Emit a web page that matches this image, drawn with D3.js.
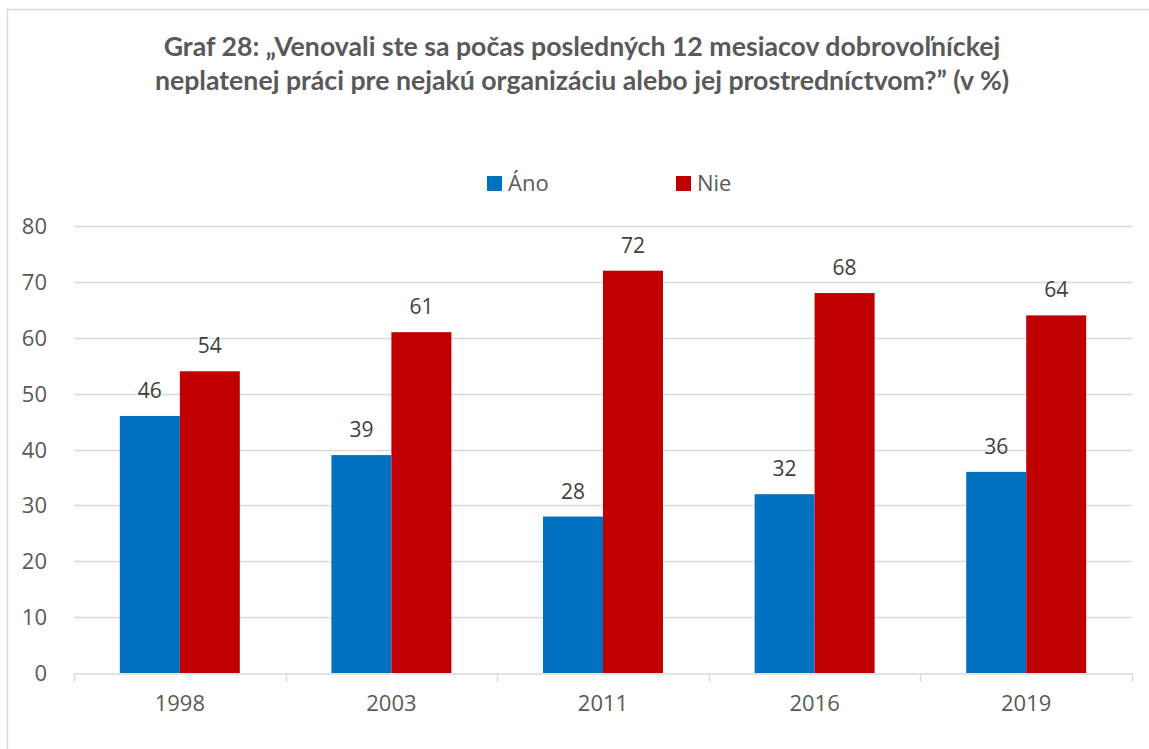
<!DOCTYPE html>
<html>
<head>
<meta charset="utf-8">
<script src="https://cdn.jsdelivr.net/npm/d3@7"></script>
<style>
  html, body { margin: 0; padding: 0; background: #fff; }
  svg { display: block; }
</style>
</head>
<body>
<svg id="chart" width="1149" height="749"></svg>
<script>
// data
var years = ['1998', '2003', '2011', '2016', '2019'];
var seriesNames = ['Áno', 'Nie'];
var anoValues = [46, 39, 28, 32, 36];
var nieValues = [54, 61, 72, 68, 64];
var yTicks = [0, 10, 20, 30, 40, 50, 60, 70, 80];
var titleLines = [
  'Graf 28: „Venovali ste sa počas posledných 12 mesiacov dobrovoľníckej',
  'neplatenej práci pre nejakú organizáciu alebo jej prostredníctvom?” (v %)'
];

var colors = ['#0070c0', '#c00000'];
var textColor = '#595959';
var font = '"Open Sans", "Noto Sans", sans-serif';

var svg = d3.select('#chart');

// chart frame
svg.append('path')
  .attr('d', 'M7.5,760 L7.5,9.5 L1160,9.5')
  .attr('fill', 'none')
  .attr('stroke', '#d9d9d9')
  .attr('stroke-width', 1.5);

// title, scaled so its first line is as wide as in the reference
var title = svg.append('g');
titleLines.forEach(function(line, i) {
  title.append('text')
    .attr('x', 582)
    .attr('y', 56 + i * 34)
    .attr('text-anchor', 'middle')
    .attr('font-family', 'Lato, "Open Sans", sans-serif')
    .attr('font-weight', 'bold')
    .attr('font-size', 22)
    .attr('fill', textColor)
    .text(line);
});
var w0 = title.select('text').node().getComputedTextLength();
title.selectAll('text').attr('font-size', 22 * 837 / w0);

var margin = {left: 74, right: 17, top: 226, bottom: 76};
var x0 = d3.scaleBand()
  .domain(years)
  .range([margin.left, 1149 - margin.right])
  .paddingInner(0.433)
  .paddingOuter(0.2165);

var x1 = d3.scaleBand()
  .domain(seriesNames)
  .range([0, x0.bandwidth()]);

var y = d3.scaleLinear()
  .domain([0, 80])
  .range([749 - margin.bottom, margin.top]);

// gridlines
svg.append('g')
  .selectAll('line')
  .data(yTicks.slice(1))
  .enter().append('line')
  .attr('x1', margin.left)
  .attr('x2', 1149 - margin.right)
  .attr('y1', function(d) { return Math.round(y(d)) + 0.5; })
  .attr('y2', function(d) { return Math.round(y(d)) + 0.5; })
  .attr('stroke', '#d9d9d9')
  .attr('stroke-width', 1.3);

// y axis labels
svg.append('g')
  .selectAll('text')
  .data(yTicks)
  .enter().append('text')
  .attr('x', 47)
  .attr('y', function(d) { return y(d) + 8; })
  .attr('text-anchor', 'end')
  .attr('font-family', font)
  .attr('font-size', 22)
  .attr('fill', textColor)
  .text(function(d) { return d; });

// bars
var series = [anoValues, nieValues];
series.forEach(function(vals, si) {
  var g = svg.append('g');
  g.selectAll('rect')
    .data(vals)
    .enter().append('rect')
    .attr('x', function(d, i) { return x0(years[i]) + x1(seriesNames[si]); })
    .attr('y', function(d) { return y(d); })
    .attr('width', x1.bandwidth())
    .attr('height', function(d) { return y(0) - y(d); })
    .attr('fill', colors[si]);

  g.selectAll('text')
    .data(vals)
    .enter().append('text')
    .attr('x', function(d, i) { return x0(years[i]) + x1(seriesNames[si]) + x1.bandwidth() / 2; })
    .attr('y', function(d) { return y(d) - 18; })
    .attr('text-anchor', 'middle')
    .attr('font-family', font)
    .attr('font-size', 21)
    .attr('fill', '#404040')
    .text(function(d) { return d; });
});

// x axis
var xAxis = d3.axisBottom(x0).tickSize(0).tickPadding(22);
var ax = svg.append('g')
  .attr('transform', 'translate(0,' + (Math.round(y(0)) + 0.5) + ')')
  .call(xAxis);
ax.select('.domain').attr('stroke', '#d9d9d9').attr('stroke-width', 1.5);
ax.selectAll('text')
  .attr('font-family', font)
  .attr('font-size', 22)
  .attr('fill', textColor);

// category separators on the axis
var seps = [margin.left].concat(years.map(function(d) { return x0(d) + x0.bandwidth() + x0.step() * 0.433 / 2; }));
ax.selectAll('line.sep')
  .data(seps)
  .enter().append('line')
  .attr('class', 'sep')
  .attr('x1', function(d) { return Math.round(d) + 0.5; })
  .attr('x2', function(d) { return Math.round(d) + 0.5; })
  .attr('y1', 0)
  .attr('y2', 8)
  .attr('stroke', '#d9d9d9')
  .attr('stroke-width', 1.5);

// legend
var legendX = [487, 676];
var legend = svg.append('g');
seriesNames.forEach(function(name, i) {
  legend.append('rect')
    .attr('x', legendX[i])
    .attr('y', 176)
    .attr('width', 15)
    .attr('height', 15)
    .attr('fill', colors[i]);
  legend.append('text')
    .attr('x', legendX[i] + 21)
    .attr('y', 191)
    .attr('font-family', font)
    .attr('font-size', 22)
    .attr('fill', textColor)
    .text(name);
});
</script>
</body>
</html>
